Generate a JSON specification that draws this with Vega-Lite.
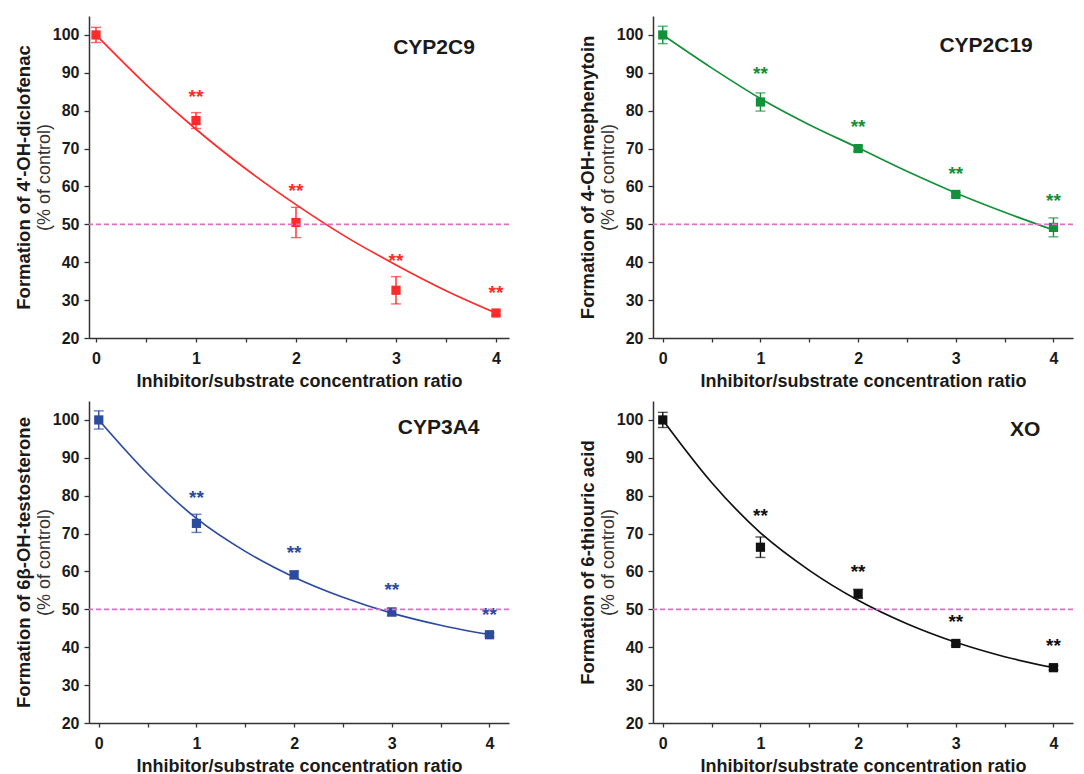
{
  "$schema": "https://vega.github.io/schema/vega-lite/v6.json",
  "background": "white",
  "padding": {"left": 14, "top": 16, "right": 0, "bottom": 0},
  "config": {
    "view": {"stroke": null},
    "font": "Liberation Sans",
    "axis": {
      "grid": false,
      "labelFont": "Liberation Sans",
      "labelFontWeight": "bold",
      "labelFontSize": 16,
      "labelColor": "#1a1a1a",
      "domainColor": "#333333",
      "domainWidth": 1.5,
      "tickColor": "#333333",
      "tickWidth": 1.3,
      "titleFont": "Liberation Sans",
      "titleFontSize": 18,
      "titleFontWeight": "bold",
      "titleColor": "#1a1a1a"
    },
    "axisX": {
      "values": [0, 0.25, 0.5, 0.75, 1, 1.25, 1.5, 1.75, 2, 2.25, 2.5, 2.75, 3, 3.25, 3.5, 3.75, 4],
      "labelExpr": "datum.value % 1 === 0 ? format(datum.value, 'd') : ''",
      "tickSize": 4,
      "labelPadding": 8,
      "titlePadding": 6
    },
    "axisY": {
      "values": [20, 25, 30, 35, 40, 45, 50, 55, 60, 65, 70, 75, 80, 85, 90, 95, 100, 105],
      "labelExpr": "datum.value % 10 === 0 && datum.value <= 100 ? datum.label : ''",
      "tickSize": {"condition": {"test": "datum.value % 10 === 0", "value": 5}, "value": 3},
      "labelPadding": 5,
      "titlePadding": 19,
      "titleFontSize": 18.5
    }
  },
  "datasets": {
    "points": [
      {"panel": "CYP2C9", "x": 0, "y": 100, "err": 2.0, "sy": null},
      {"panel": "CYP2C9", "x": 1, "y": 77.4, "err": 2.1, "sy": 84.2},
      {"panel": "CYP2C9", "x": 2, "y": 50.5, "err": 4.0, "sy": 59.4},
      {"panel": "CYP2C9", "x": 3, "y": 32.6, "err": 3.6, "sy": 40.8},
      {"panel": "CYP2C9", "x": 4, "y": 26.6, "err": 0.6, "sy": 32.5},
      {"panel": "CYP2C19", "x": 0, "y": 100, "err": 2.3, "sy": null},
      {"panel": "CYP2C19", "x": 1, "y": 82.3, "err": 2.4, "sy": 90.3},
      {"panel": "CYP2C19", "x": 2, "y": 70.0, "err": 0.7, "sy": 76.2},
      {"panel": "CYP2C19", "x": 3, "y": 57.9, "err": 0.5, "sy": 63.9},
      {"panel": "CYP2C19", "x": 4, "y": 49.2, "err": 2.5, "sy": 56.7},
      {"panel": "CYP3A4", "x": 0, "y": 100, "err": 2.4, "sy": null},
      {"panel": "CYP3A4", "x": 1, "y": 72.7, "err": 2.4, "sy": 80.0},
      {"panel": "CYP3A4", "x": 2, "y": 59.1, "err": 1.0, "sy": 65.5},
      {"panel": "CYP3A4", "x": 3, "y": 49.3, "err": 1.0, "sy": 55.6},
      {"panel": "CYP3A4", "x": 4, "y": 43.3, "err": 0.5, "sy": 49.0},
      {"panel": "XO", "x": 0, "y": 100, "err": 2.0, "sy": null},
      {"panel": "XO", "x": 1, "y": 66.4, "err": 2.7, "sy": 75.1},
      {"panel": "XO", "x": 2, "y": 54.1, "err": 1.2, "sy": 60.5},
      {"panel": "XO", "x": 3, "y": 41.0, "err": 0.5, "sy": 47.2},
      {"panel": "XO", "x": 4, "y": 34.6, "err": 0.6, "sy": 40.8}
    ],
    "curve": [
      {"panel": "CYP2C9", "x": 0, "y": 100}, {"panel": "CYP2C9", "x": 0.5, "y": 86.9}, {"panel": "CYP2C9", "x": 1, "y": 75.1},
      {"panel": "CYP2C9", "x": 1.5, "y": 64.6}, {"panel": "CYP2C9", "x": 2, "y": 55.2}, {"panel": "CYP2C9", "x": 2.5, "y": 46.7},
      {"panel": "CYP2C9", "x": 3, "y": 39.3}, {"panel": "CYP2C9", "x": 3.5, "y": 32.5}, {"panel": "CYP2C9", "x": 4, "y": 26.6},
      {"panel": "CYP2C19", "x": 0, "y": 100}, {"panel": "CYP2C19", "x": 0.5, "y": 91.3}, {"panel": "CYP2C19", "x": 1, "y": 83.2},
      {"panel": "CYP2C19", "x": 1.5, "y": 76.3}, {"panel": "CYP2C19", "x": 2, "y": 70.2}, {"panel": "CYP2C19", "x": 2.5, "y": 64.0},
      {"panel": "CYP2C19", "x": 3, "y": 58.3}, {"panel": "CYP2C19", "x": 3.5, "y": 53.2}, {"panel": "CYP2C19", "x": 4, "y": 48.5},
      {"panel": "CYP3A4", "x": 0, "y": 100}, {"panel": "CYP3A4", "x": 0.5, "y": 85.8}, {"panel": "CYP3A4", "x": 1, "y": 74.0},
      {"panel": "CYP3A4", "x": 1.5, "y": 65.3}, {"panel": "CYP3A4", "x": 2, "y": 58.5}, {"panel": "CYP3A4", "x": 2.5, "y": 53.2},
      {"panel": "CYP3A4", "x": 3, "y": 49.0}, {"panel": "CYP3A4", "x": 3.5, "y": 45.8}, {"panel": "CYP3A4", "x": 4, "y": 43.3},
      {"panel": "XO", "x": 0, "y": 100}, {"panel": "XO", "x": 0.5, "y": 83.5}, {"panel": "XO", "x": 1, "y": 70.2},
      {"panel": "XO", "x": 1.5, "y": 60.3}, {"panel": "XO", "x": 2, "y": 52.4}, {"panel": "XO", "x": 2.5, "y": 46.2},
      {"panel": "XO", "x": 3, "y": 41.3}, {"panel": "XO", "x": 3.5, "y": 37.5}, {"panel": "XO", "x": 4, "y": 34.6}
    ],
    "one": [{}]
  },
  "columns": 2,
  "spacing": {"row": 63, "column": 144},
  "bounds": "flush",
  "concat": [
    {
      "width": 420, "height": 322,
      "resolve": {"axis": {"y": "independent"}},
      "layer": [
        {
          "data": {"name": "curve"},
          "transform": [{"filter": "datum.panel === 'CYP2C9'"}],
          "mark": {"type": "line", "interpolate": "monotone", "color": "#ff2a2a", "strokeWidth": 1.7},
          "encoding": {
            "x": {"field": "x", "type": "quantitative", "scale": {"domain": [-0.07, 4.13], "nice": false, "zero": false}, "axis": {"title": "Inhibitor/substrate concentration ratio"}},
            "y": {"field": "y", "type": "quantitative", "scale": {"domain": [20, 105], "nice": false, "zero": false}, "axis": {"title": "Formation of 4'-OH-diclofenac"}}
          }
        },
        {
          "data": {"name": "points"},
          "transform": [{"filter": "datum.panel === 'CYP2C9'"}],
          "mark": {"type": "errorbar", "ticks": {"size": 10}, "color": "#ff2a2a", "thickness": 1.4},
          "encoding": {
            "x": {"field": "x", "type": "quantitative"},
            "y": {"field": "y", "type": "quantitative", "scale": {"domain": [20, 105], "nice": false, "zero": false}, "axis": null},
            "yError": {"field": "err"}
          }
        },
        {
          "data": {"name": "points"},
          "transform": [{"filter": "datum.panel === 'CYP2C9'"}],
          "mark": {"type": "square", "size": 85, "color": "#ff2a2a", "opacity": 1},
          "encoding": {
            "x": {"field": "x", "type": "quantitative"},
            "y": {"field": "y", "type": "quantitative", "scale": {"domain": [20, 105], "nice": false, "zero": false}, "axis": null}
          }
        },
        {
          "data": {"name": "points"},
          "transform": [{"filter": "datum.panel === 'CYP2C9' && datum.sy != null"}],
          "mark": {"type": "text", "text": "**", "fontSize": 19, "fontWeight": "bold", "color": "#ff2a2a", "baseline": "middle", "dy": 2},
          "encoding": {
            "x": {"field": "x", "type": "quantitative"},
            "y": {"field": "sy", "type": "quantitative", "scale": {"domain": [20, 105], "nice": false, "zero": false},
                  "axis": {"orient": "left", "title": "(% of control)", "labels": false, "ticks": false, "domain": false, "titleFontWeight": "normal", "titleFontSize": 18, "titleColor": "#333333", "titlePadding": 36}}
          }
        },
        {
          "data": {"name": "one"},
          "mark": {"type": "rule", "color": "#dd6fc6", "strokeDash": [5, 3], "strokeWidth": 1.6},
          "encoding": {"y": {"datum": 50, "type": "quantitative", "scale": {"domain": [20, 105], "nice": false, "zero": false}, "axis": null}}
        },
        {
          "data": {"name": "one"},
          "mark": {"type": "text", "text": "CYP2C9", "fontSize": 21, "fontWeight": "bold", "color": "#1a1a1a"},
          "encoding": {
            "x": {"datum": 3.38, "type": "quantitative"},
            "y": {"datum": 96.5, "type": "quantitative", "scale": {"domain": [20, 105], "nice": false, "zero": false}, "axis": null}
          }
        }
      ]
    },
    {
      "width": 420, "height": 322,
      "resolve": {"axis": {"y": "independent"}},
      "layer": [
        {
          "data": {"name": "curve"},
          "transform": [{"filter": "datum.panel === 'CYP2C19'"}],
          "mark": {"type": "line", "interpolate": "monotone", "color": "#12913a", "strokeWidth": 1.7},
          "encoding": {
            "x": {"field": "x", "type": "quantitative", "scale": {"domain": [-0.1, 4.2], "nice": false, "zero": false}, "axis": {"title": "Inhibitor/substrate concentration ratio"}},
            "y": {"field": "y", "type": "quantitative", "scale": {"domain": [20, 105], "nice": false, "zero": false}, "axis": {"title": "Formation of 4-OH-mephenytoin"}}
          }
        },
        {
          "data": {"name": "points"},
          "transform": [{"filter": "datum.panel === 'CYP2C19'"}],
          "mark": {"type": "errorbar", "ticks": {"size": 10}, "color": "#12913a", "thickness": 1.4},
          "encoding": {
            "x": {"field": "x", "type": "quantitative"},
            "y": {"field": "y", "type": "quantitative", "scale": {"domain": [20, 105], "nice": false, "zero": false}, "axis": null},
            "yError": {"field": "err"}
          }
        },
        {
          "data": {"name": "points"},
          "transform": [{"filter": "datum.panel === 'CYP2C19'"}],
          "mark": {"type": "square", "size": 85, "color": "#12913a", "opacity": 1},
          "encoding": {
            "x": {"field": "x", "type": "quantitative"},
            "y": {"field": "y", "type": "quantitative", "scale": {"domain": [20, 105], "nice": false, "zero": false}, "axis": null}
          }
        },
        {
          "data": {"name": "points"},
          "transform": [{"filter": "datum.panel === 'CYP2C19' && datum.sy != null"}],
          "mark": {"type": "text", "text": "**", "fontSize": 19, "fontWeight": "bold", "color": "#12913a", "baseline": "middle", "dy": 2},
          "encoding": {
            "x": {"field": "x", "type": "quantitative"},
            "y": {"field": "sy", "type": "quantitative", "scale": {"domain": [20, 105], "nice": false, "zero": false},
                  "axis": {"orient": "left", "title": "(% of control)", "labels": false, "ticks": false, "domain": false, "titleFontWeight": "normal", "titleFontSize": 18, "titleColor": "#333333", "titlePadding": 36}}
          }
        },
        {
          "data": {"name": "one"},
          "mark": {"type": "rule", "color": "#dd6fc6", "strokeDash": [5, 3], "strokeWidth": 1.6},
          "encoding": {"y": {"datum": 50, "type": "quantitative", "scale": {"domain": [20, 105], "nice": false, "zero": false}, "axis": null}}
        },
        {
          "data": {"name": "one"},
          "mark": {"type": "text", "text": "CYP2C19", "fontSize": 21, "fontWeight": "bold", "color": "#1a1a1a"},
          "encoding": {
            "x": {"datum": 3.31, "type": "quantitative"},
            "y": {"datum": 97.1, "type": "quantitative", "scale": {"domain": [20, 105], "nice": false, "zero": false}, "axis": null}
          }
        }
      ]
    },
    {
      "width": 420, "height": 322,
      "resolve": {"axis": {"y": "independent"}},
      "layer": [
        {
          "data": {"name": "curve"},
          "transform": [{"filter": "datum.panel === 'CYP3A4'"}],
          "mark": {"type": "line", "interpolate": "monotone", "color": "#2b4b9e", "strokeWidth": 1.7},
          "encoding": {
            "x": {"field": "x", "type": "quantitative", "scale": {"domain": [-0.1, 4.2], "nice": false, "zero": false}, "axis": {"title": "Inhibitor/substrate concentration ratio"}},
            "y": {"field": "y", "type": "quantitative", "scale": {"domain": [20, 105], "nice": false, "zero": false}, "axis": {"title": "Formation of 6β-OH-testosterone"}}
          }
        },
        {
          "data": {"name": "points"},
          "transform": [{"filter": "datum.panel === 'CYP3A4'"}],
          "mark": {"type": "errorbar", "ticks": {"size": 10}, "color": "#2b4b9e", "thickness": 1.4},
          "encoding": {
            "x": {"field": "x", "type": "quantitative"},
            "y": {"field": "y", "type": "quantitative", "scale": {"domain": [20, 105], "nice": false, "zero": false}, "axis": null},
            "yError": {"field": "err"}
          }
        },
        {
          "data": {"name": "points"},
          "transform": [{"filter": "datum.panel === 'CYP3A4'"}],
          "mark": {"type": "square", "size": 85, "color": "#2b4b9e", "opacity": 1},
          "encoding": {
            "x": {"field": "x", "type": "quantitative"},
            "y": {"field": "y", "type": "quantitative", "scale": {"domain": [20, 105], "nice": false, "zero": false}, "axis": null}
          }
        },
        {
          "data": {"name": "points"},
          "transform": [{"filter": "datum.panel === 'CYP3A4' && datum.sy != null"}],
          "mark": {"type": "text", "text": "**", "fontSize": 19, "fontWeight": "bold", "color": "#2b4b9e", "baseline": "middle", "dy": 2},
          "encoding": {
            "x": {"field": "x", "type": "quantitative"},
            "y": {"field": "sy", "type": "quantitative", "scale": {"domain": [20, 105], "nice": false, "zero": false},
                  "axis": {"orient": "left", "title": "(% of control)", "labels": false, "ticks": false, "domain": false, "titleFontWeight": "normal", "titleFontSize": 18, "titleColor": "#333333", "titlePadding": 36}}
          }
        },
        {
          "data": {"name": "one"},
          "mark": {"type": "rule", "color": "#dd6fc6", "strokeDash": [5, 3], "strokeWidth": 1.6},
          "encoding": {"y": {"datum": 50, "type": "quantitative", "scale": {"domain": [20, 105], "nice": false, "zero": false}, "axis": null}}
        },
        {
          "data": {"name": "one"},
          "mark": {"type": "text", "text": "CYP3A4", "fontSize": 21, "fontWeight": "bold", "color": "#1a1a1a"},
          "encoding": {
            "x": {"datum": 3.48, "type": "quantitative"},
            "y": {"datum": 97.8, "type": "quantitative", "scale": {"domain": [20, 105], "nice": false, "zero": false}, "axis": null}
          }
        }
      ]
    },
    {
      "width": 420, "height": 322,
      "resolve": {"axis": {"y": "independent"}},
      "layer": [
        {
          "data": {"name": "curve"},
          "transform": [{"filter": "datum.panel === 'XO'"}],
          "mark": {"type": "line", "interpolate": "monotone", "color": "#111111", "strokeWidth": 1.7},
          "encoding": {
            "x": {"field": "x", "type": "quantitative", "scale": {"domain": [-0.1, 4.2], "nice": false, "zero": false}, "axis": {"title": "Inhibitor/substrate concentration ratio"}},
            "y": {"field": "y", "type": "quantitative", "scale": {"domain": [20, 105], "nice": false, "zero": false}, "axis": {"title": "Formation of 6-thiouric acid"}}
          }
        },
        {
          "data": {"name": "points"},
          "transform": [{"filter": "datum.panel === 'XO'"}],
          "mark": {"type": "errorbar", "ticks": {"size": 10}, "color": "#111111", "thickness": 1.4},
          "encoding": {
            "x": {"field": "x", "type": "quantitative"},
            "y": {"field": "y", "type": "quantitative", "scale": {"domain": [20, 105], "nice": false, "zero": false}, "axis": null},
            "yError": {"field": "err"}
          }
        },
        {
          "data": {"name": "points"},
          "transform": [{"filter": "datum.panel === 'XO'"}],
          "mark": {"type": "square", "size": 85, "color": "#111111", "opacity": 1},
          "encoding": {
            "x": {"field": "x", "type": "quantitative"},
            "y": {"field": "y", "type": "quantitative", "scale": {"domain": [20, 105], "nice": false, "zero": false}, "axis": null}
          }
        },
        {
          "data": {"name": "points"},
          "transform": [{"filter": "datum.panel === 'XO' && datum.sy != null"}],
          "mark": {"type": "text", "text": "**", "fontSize": 19, "fontWeight": "bold", "color": "#111111", "baseline": "middle", "dy": 2},
          "encoding": {
            "x": {"field": "x", "type": "quantitative"},
            "y": {"field": "sy", "type": "quantitative", "scale": {"domain": [20, 105], "nice": false, "zero": false},
                  "axis": {"orient": "left", "title": "(% of control)", "labels": false, "ticks": false, "domain": false, "titleFontWeight": "normal", "titleFontSize": 18, "titleColor": "#333333", "titlePadding": 36}}
          }
        },
        {
          "data": {"name": "one"},
          "mark": {"type": "rule", "color": "#dd6fc6", "strokeDash": [5, 3], "strokeWidth": 1.6},
          "encoding": {"y": {"datum": 50, "type": "quantitative", "scale": {"domain": [20, 105], "nice": false, "zero": false}, "axis": null}}
        },
        {
          "data": {"name": "one"},
          "mark": {"type": "text", "text": "XO", "fontSize": 21, "fontWeight": "bold", "color": "#1a1a1a"},
          "encoding": {
            "x": {"datum": 3.71, "type": "quantitative"},
            "y": {"datum": 97.3, "type": "quantitative", "scale": {"domain": [20, 105], "nice": false, "zero": false}, "axis": null}
          }
        }
      ]
    }
  ]
}
